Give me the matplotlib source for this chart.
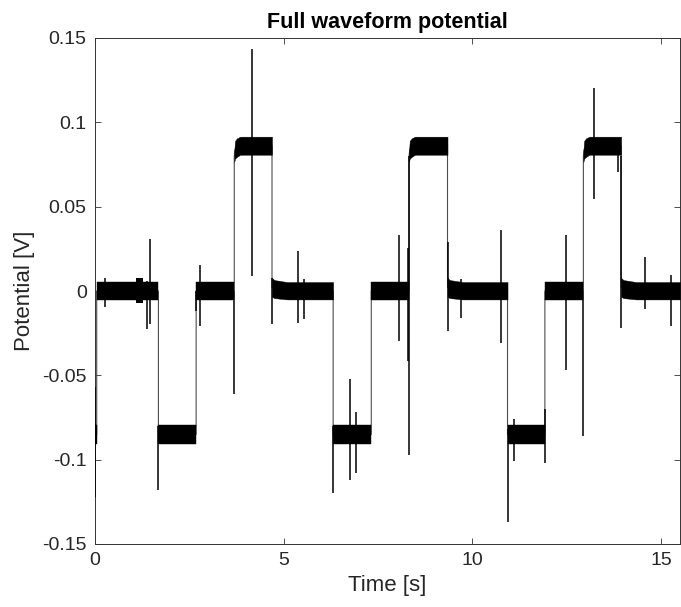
import numpy as np
import matplotlib.pyplot as plt

plt.rcParams['font.family'] = ['Liberation Sans', 'DejaVu Sans']

# times [s] where the signal steps, and the level that holds after each step
step_t = [0.0, 0.045, 1.68, 2.68, 3.69, 4.69, 6.31, 7.32, 8.32, 9.34, 10.93, 11.92, 12.94, 13.94]
step_level = ['low', 'zero', 'low', 'zero', 'high', 'after', 'low', 'zero', 'high', 'after',
              'low', 'zero', 'high', 'after']
t_end = 15.5

# noise band edges [V], read at offsets [s] from the start of each step
band_off = {'low': [0.0], 'zero': [0.0], 'high': [0.0, 0.02, 0.07, 0.16], 'after': [0.0, 0.06, 0.4]}
band_hi = {'low': [-0.0795], 'zero': [0.0055], 'high': [0.083, 0.089, 0.0905, 0.0915],
           'after': [0.0078, 0.0065, 0.0053]}
band_lo = {'low': [-0.0907], 'zero': [-0.0055], 'high': [0.0765, 0.0785, 0.0795, 0.0808],
           'after': [-0.0034, -0.0042, -0.005]}

# short thicker patch of noise in the first zero section
bump_t = [1.08, 1.28]
bump_lo = -0.0071
bump_hi = 0.0078

# spikes: time [s], lowest and highest value [V]
spike_t = [0.0, 0.27, 1.39, 1.46, 1.68, 2.68, 2.77, 3.69, 4.16, 4.69, 5.38, 5.54,
           6.31, 6.75, 6.92, 8.06, 8.30, 8.32, 9.36, 9.71, 10.77, 10.93, 11.09,
           11.92, 12.48, 12.94, 13.22, 13.87, 13.94, 14.58, 15.25]
spike_lo = [-0.122, -0.0095, -0.0226, -0.0196, -0.118, -0.012, -0.0206, -0.061, 0.009, -0.0196, -0.0187, -0.0167,
            -0.120, -0.112, -0.108, -0.0296, -0.0415, -0.0974, -0.024, -0.016, -0.031, -0.137, -0.101,
            -0.102, -0.047, -0.0857, 0.0546, 0.0708, -0.022, -0.0107, -0.021]
spike_hi = [-0.057, 0.008, 0.006, 0.031, -0.080, 0.0, 0.0155, 0.0, 0.1437, 0.008, 0.024, 0.007,
            -0.080, -0.052, -0.072, 0.0333, 0.0254, 0.08, 0.029, 0.007, 0.036, -0.082, -0.076,
            -0.070, 0.033, 0.0, 0.1203, 0.081, 0.08, 0.020, 0.0095]

xticks = [0, 5, 10, 15]
yticks = [-0.15, -0.1, -0.05, 0, 0.05, 0.1, 0.15]
ytick_labels = ['-0.15', '-0.1', '-0.05', '0', '0.05', '0.1', '0.15']

fig = plt.figure(figsize=(6.81, 6.07), dpi=100)
ax = fig.add_axes([95/681, 1 - 544/607, 585/681, 506/607])

ends = step_t[1:] + [t_end]
trace_t, trace_v = [], []
for t0, t1, lev in zip(step_t, ends, step_level):
    tt = [t0 + o for o in band_off[lev] if t0 + o < t1] + [t1]
    hi = band_hi[lev][:len(tt) - 1] + [band_hi[lev][len(tt) - 2]]
    lo = band_lo[lev][:len(tt) - 1] + [band_lo[lev][len(tt) - 2]]
    ax.fill_between(tt, lo, hi, color='black', lw=0.3, edgecolor='black', zorder=3)
    mid = [(a + b) / 2 for a, b in zip(lo, hi)]
    trace_t += tt
    trace_v += mid

# the steps themselves, under the noise bands
ax.plot(trace_t, trace_v, color='0.3', lw=0.8, zorder=2)
ax.fill_between(bump_t, bump_lo, bump_hi, color='black', lw=0, zorder=3)
ax.vlines(spike_t, spike_lo, spike_hi, color='black', lw=1.1, zorder=4)

ax.set_xlim(0, t_end)
ax.set_ylim(-0.15, 0.15)
ax.set_xticks(xticks)
ax.set_xticklabels([str(x) for x in xticks])
ax.set_yticks(yticks)
ax.set_yticklabels(ytick_labels)
ax.tick_params(direction='in', top=True, right=True, length=4.5, width=0.6,
               color='0.2', labelsize=14, labelcolor='0.15', pad=6)
for s in ax.spines.values():
    s.set_color('0.2')
    s.set_linewidth(0.7)

ax.set_xlabel('Time [s]', fontsize=16, color='0.15', labelpad=4)
ax.set_ylabel('Potential [V]', fontsize=16, color='0.15', labelpad=5)
ax.set_title('Full waveform potential', fontsize=15.5, fontweight='bold', pad=7)

fig.savefig('out.png', dpi=100)
